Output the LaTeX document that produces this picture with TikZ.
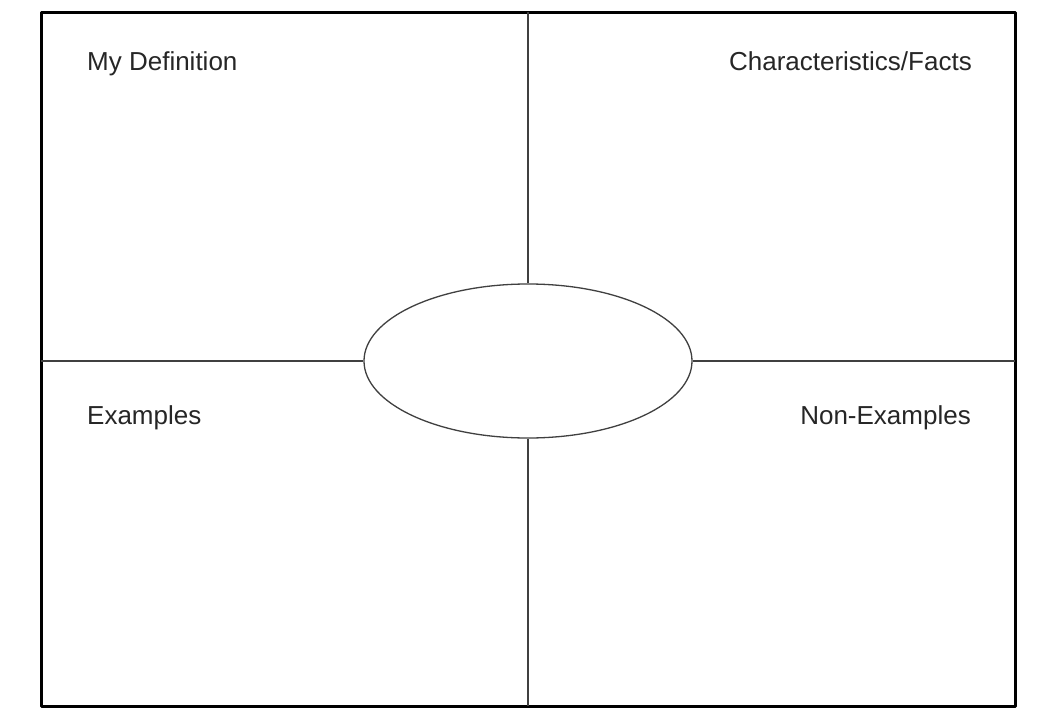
\documentclass[tikz,border=0pt]{standalone}
\usepackage{fontspec}
\setmainfont{Liberation Sans}
\usetikzlibrary{positioning,shapes.geometric}

\begin{document}
\begin{tikzpicture}[x=1pt, y=-1pt,
  label/.style={font=\fontsize{26}{30}\selectfont, text=black!85, inner sep=0pt},
  divider/.style={draw=black!75, line width=1.3pt}]
\useasboundingbox[fill=white] (0,0) rectangle (1050,728);
\draw[line width=3pt, line join=round] (41,12) rectangle (1015,706);
\node[ellipse, draw=black!75, line width=1.3pt, minimum width=328pt, minimum height=154pt, inner sep=0pt](oval) at (528,361) {};
\coordinate (top) at (528,12);
\coordinate (bottom) at (528,706);
\coordinate (left) at (41,361);
\coordinate (right) at (1015,361);
\path[divider] (top) edge (oval.north);
\path[divider] (oval.south) edge (bottom);
\path[divider] (left) edge (oval.west);
\path[divider] (oval.east) edge (right);
\node[label, anchor=base west](def) at (87,70) {My Definition};
\node[label, anchor=base east](facts) at (972,70) {Characteristics/Facts};
\node[label, anchor=base west](ex) at (87,424) {Examples};
\node[label, anchor=base east](nonex) at (971,424) {Non-Examples};
\end{tikzpicture}
\end{document}
